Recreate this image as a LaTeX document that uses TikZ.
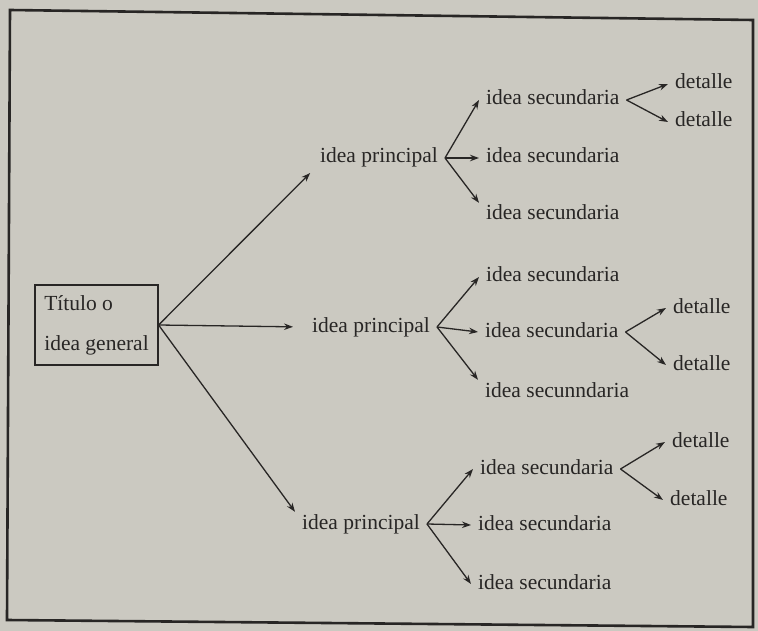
\documentclass[tikz,border=0pt]{standalone}
\usepackage{fontspec}
\setmainfont{Liberation Serif}
\usetikzlibrary{arrows.meta}
\definecolor{paper}{RGB}{203,201,193}
\definecolor{ink}{RGB}{40,38,37}
\tikzset{
  idea/.style={anchor=west, inner xsep=7pt, inner ysep=2pt, text height=15pt, text depth=5pt,
               text=ink, font=\fontsize{21.5}{26}\selectfont},
  arr/.style={draw=ink, line width=1.3pt, -{Stealth[length=9pt,width=6.5pt]}},
}

\begin{document}
\begin{tikzpicture}[x=1pt,y=-1pt]
    \fill[paper] (0,0) rectangle (758,631);
    \useasboundingbox (0,0) rectangle (758,631);
    \draw[ink, line width=2.6pt] (10,10) -- (753,20) -- (753,627) -- (7,620) -- cycle; % Frame.

    \node[draw=ink, line width=1.2pt, align=left, text=ink, minimum width=123pt, minimum height=80pt,
          font=\fontsize{21.5}{40}\selectfont] (title) at (96.5,325) {Título o\\idea general};

    \node[idea] (p1) at (313,158) {idea principal};
    \node[idea] (p2) at (305,327) {idea principal};
    \node[idea] (p3) at (295,524) {idea principal};

    \node[idea] (s11) at (479,100) {idea secundaria};
    \node[idea] (s12) at (479,158) {idea secundaria};
    \node[idea] (s13) at (479,215) {idea secundaria};
    \node[idea] (s21) at (479,277) {idea secundaria};
    \node[idea] (s22) at (478,332) {idea secundaria};
    \node[idea] (s23) at (478,392) {idea secunndaria};
    \node[idea] (s31) at (473,469) {idea secundaria};
    \node[idea] (s32) at (471,525) {idea secundaria};
    \node[idea] (s33) at (471,584) {idea secundaria};

    \node[idea] (d11) at (668,84) {detalle};
    \node[idea] (d12) at (668,122) {detalle};
    \node[idea] (d21) at (666,308) {detalle};
    \node[idea] (d22) at (666,365) {detalle};
    \node[idea] (d31) at (665,442) {detalle};
    \node[idea] (d32) at (663,500) {detalle};

    \draw[arr, shorten >=4pt] (title.east) -- (p1.south west);
    \draw[arr, shorten >=12pt] (title.east) -- (p2.west);
    \draw[arr] (title.east) -- (p3.north west);

    \foreach \a/\b/\c in {p1/s11/west, p1/s12/west, p1/s13/north west,
                          p2/s21/west, p2/s22/west, p2/s23/north west,
                          p3/s31/west, p3/s32/west, p3/s33/west}
        \draw[arr] (\a.east) -- (\b.\c);

    \foreach \a/\b in {s11/d11, s11/d12, s22/d21, s22/d22, s31/d31, s31/d32}
        \draw[arr] (\a.east) -- (\b.west);
\end{tikzpicture}
\end{document}
